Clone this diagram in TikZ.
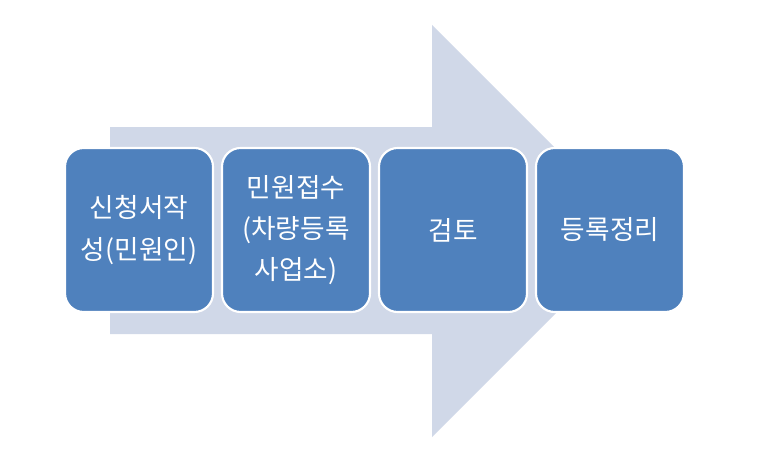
\documentclass[tikz,border=0pt]{standalone}
\usepackage{fontspec}
\newfontfamily\krfont{Noto Sans CJK KR}
\definecolor{boxblue}{HTML}{4F81BD}
\definecolor{arrowgray}{HTML}{D0D8E8}
\tikzset{
  stepbox/.style={draw=white, line width=1.6pt, fill=boxblue, rounded corners=14pt,
    minimum width=111pt, minimum height=123pt, inner sep=2pt,
    text=white, align=center, font=\krfont\fontsize{20}{31}\selectfont},
  bigarrow/.style={fill=arrowgray, draw=none}
}
\begin{document}
\begin{tikzpicture}[x=0.75pt,y=-0.75pt]
\useasboundingbox (0,0) rectangle (777,467);
\fill[white] (0,0) rectangle (777,467);
\path[bigarrow] (110,127) -- (432,127) -- (432,25) -- (638,231) -- (432,437) -- (432,334) -- (110,334) -- cycle;
\node[stepbox] (s1) at (139,230) {신청서작\\성(민원인)};
\node[stepbox] (s2) at (296,230) {민원접수\\(차량등록\\사업소)};
\node[stepbox] (s3) at (453,230) {검토};
\node[stepbox] (s4) at (610,230) {등록정리};
\end{tikzpicture}
\end{document}
